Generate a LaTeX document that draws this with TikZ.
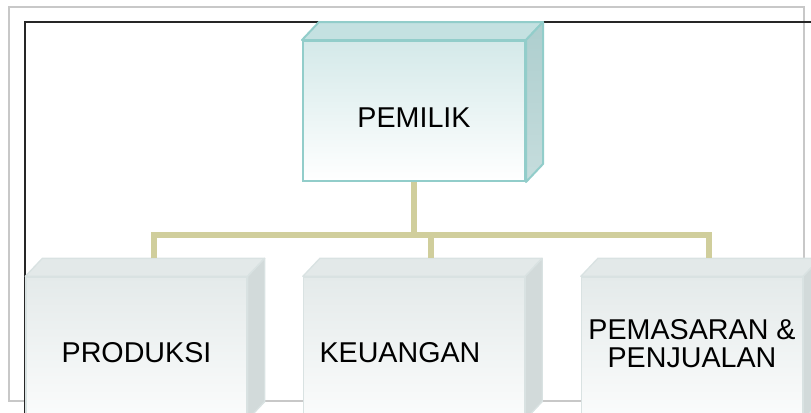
\documentclass[tikz,border=0pt]{standalone}
\usepackage{fontspec}
\setmainfont{Liberation Sans}
\usetikzlibrary{calc,positioning}
\definecolor{tealline}{HTML}{92CDCA}
\definecolor{headtop}{HTML}{D4E9E9}
\definecolor{headlid}{HTML}{C4E1E1}
\definecolor{headside}{HTML}{ADCECE}
\definecolor{headsidelow}{HTML}{C6DDDD}
\definecolor{unitline}{HTML}{D9E2E2}
\definecolor{unittop}{HTML}{E4EAEA}
\definecolor{unitbot}{HTML}{FBFCFC}
\definecolor{unitlid}{HTML}{E3E9E9}
\definecolor{unitside}{HTML}{D2DADA}
\definecolor{linkcol}{HTML}{D0CE9C}
\definecolor{framegray}{HTML}{C8C8C8}
\tikzset{
head/.style = {draw=tealline, line width=1.5pt, rectangle, top color=headtop, bottom color=white,
  minimum width=166.5pt, minimum height=105pt, inner sep=0pt},
unit/.style = {draw=unitline, line width=1pt, rectangle, top color=unittop, bottom color=unitbot,
  minimum width=165.75pt, minimum height=106.5pt, inner sep=0pt},
boxtext/.style = {font=\fontsize{21.5pt}{21pt}\selectfont, align=center, inner sep=0pt},
link/.style = {draw=linkcol, line width=4.5pt}
}

\begin{document}
\begin{tikzpicture}[x=0.75pt, y=-0.75pt]
    \useasboundingbox (0,0) rectangle (811,412);
    \clip (0,0) rectangle (811,412);
    % frames behind the chart
    \draw [framegray, line width=1.5pt] (9,7) rectangle (804,401);
    \draw [black!85, line width=1.1pt] (25,22) rectangle (840,440);

    % We start by placing the blocks
    \node [head] (pemilik) at (414,111) {};
    \node [unit] (produksi) at (136.5,348) {};
    \node [unit] (keuangan) at (414,348) {};
    \node [unit] (pemasaran) at (692,348) {};

    % depth of the blocks
    \path [fill=headlid, draw=tealline, line width=1.5pt, line join=round]
        (pemilik.north west) -- ++(17,-18) -- ($(pemilik.north east)+(17,-18)$) -- (pemilik.north east) -- cycle;
    \path [top color=headside, bottom color=headsidelow, draw=tealline, line width=1.5pt, line join=round]
        (pemilik.north east) -- ++(17,-18) -- ($(pemilik.south east)+(17,-18)$) -- (pemilik.south east) -- cycle;
    \foreach \n in {produksi,keuangan,pemasaran} {
        \path [fill=unitlid, draw=unitline, line width=1pt, line join=round]
            (\n.north west) -- ++(17,-18) -- ($(\n.north east)+(17,-18)$) -- (\n.north east) -- cycle;
        \path [fill=unitside, draw=unitline, line width=1pt, line join=round]
            (\n.north east) -- ++(17,-18) -- ($(\n.south east)+(17,-18)$) -- (\n.south east) -- cycle;
        \coordinate (\n Top) at ($(\n.north)+(17,-18)$);
    }

    % texts
    \node [boxtext, yshift=-5.25pt] (pemilikText) at (pemilik) {PEMILIK};
    \node [boxtext, yshift=-3.75pt] (produksiText) at (produksi) {PRODUKSI};
    \node [boxtext, xshift=-10.5pt, yshift=-3.75pt] (keuanganText) at (keuangan) {KEUANGAN};
    \node [boxtext, yshift=3pt] (pemasaranText) at (pemasaran) {PEMASARAN \&\\PENJUALAN};

    % connectors
    \coordinate (bar) at (0,235);
    \draw [link] (pemilik.south) -- (pemilik.south |- bar);
    \draw [link] (produksiTop) -- (produksiTop |- bar) -- (pemasaranTop |- bar) -- (pemasaranTop);
    \draw [link] (keuanganTop |- bar) -- (keuanganTop);
\end{tikzpicture}
\end{document}
